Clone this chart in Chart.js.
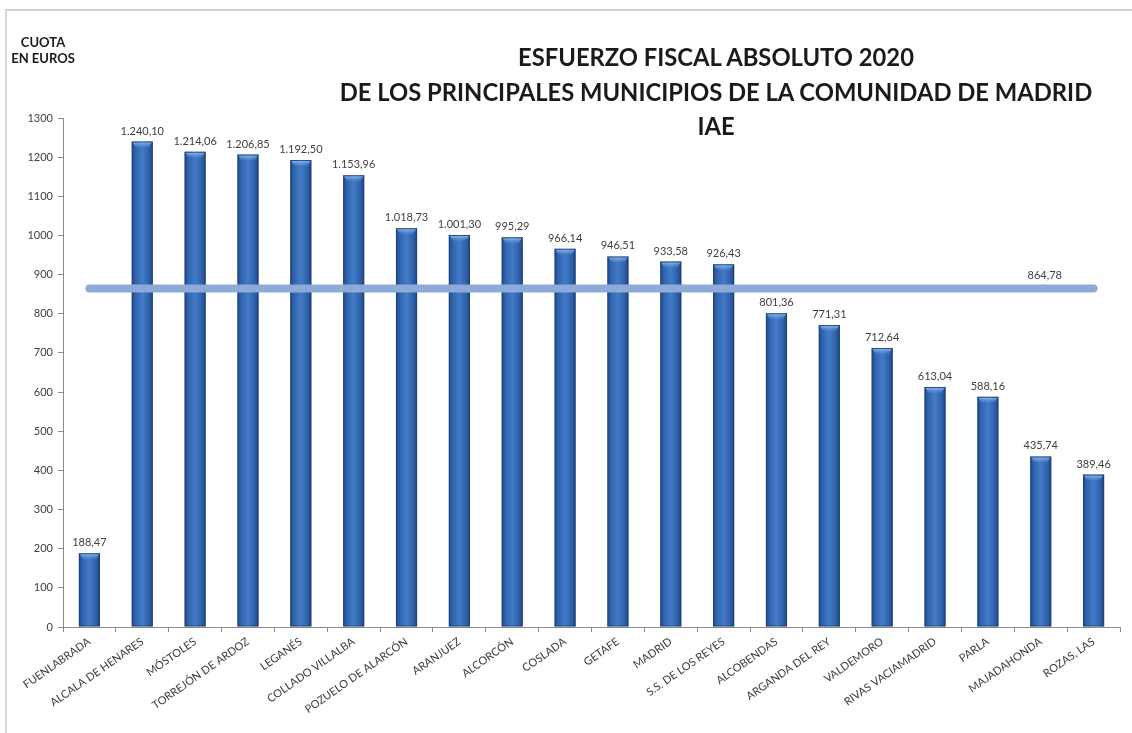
<!DOCTYPE html>
<html>
<head>
<meta charset="utf-8">
<script src="https://cdn.jsdelivr.net/npm/chart.js@4/dist/chart.umd.min.js"></script>
<style>
  html,body{margin:0;padding:0;background:#fff;}
  #wrap{position:relative;width:1132px;height:733px;overflow:hidden;background:#fff;}
  #frame{position:absolute;left:5px;top:9px;right:0;bottom:-5px;border-top:2px solid #cfcfcf;border-left:2px solid #d8d8d8;}
  canvas{position:absolute;left:0;top:0;}
  .t{position:absolute;left:716px;transform:translate(-50%,-50%);font-family:Lato,"Open Sans",sans-serif;font-weight:700;color:#1a1a1a;white-space:nowrap;}
  .u{position:absolute;left:43px;transform:translate(-50%,-50%);font-family:Lato,"Open Sans",sans-serif;font-weight:700;font-size:13px;color:#1a1a1a;white-space:nowrap;}
</style>
</head>
<body>
<div id="wrap">
  <div id="frame"></div>
  <canvas id="c" width="1132" height="733"></canvas>
  <div class="u" style="top:42px">CUOTA</div>
  <div class="u" style="top:58px">EN EUROS</div>
  <div class="t" id="t1" style="top:57px">ESFUERZO FISCAL ABSOLUTO 2020</div>
  <div class="t" id="t2" style="top:92px">DE LOS PRINCIPALES MUNICIPIOS DE LA COMUNIDAD DE MADRID</div>
  <div class="t" id="t3" style="top:126px">IAE</div>
</div>
<script>
const categories = ["FUENLABRADA","ALCALA DE HENARES","MÓSTOLES","TORREJÓN DE ARDOZ","LEGANÉS","COLLADO VILLALBA","POZUELO DE ALARCÓN","ARANJUEZ","ALCORCÓN","COSLADA","GETAFE","MADRID","S.S. DE LOS REYES","ALCOBENDAS","ARGANDA DEL REY","VALDEMORO","RIVAS VACIAMADRID","PARLA","MAJADAHONDA","ROZAS, LAS"];
const cuota = [188.47,1240.10,1214.06,1206.85,1192.50,1153.96,1018.73,1001.30,995.29,966.14,946.51,933.58,926.43,801.36,771.31,712.64,613.04,588.16,435.74,389.46];
const media = 864.78;
const mediaSeries = categories.map(() => media);
const yTicks = [0,100,200,300,400,500,600,700,800,900,1000,1100,1200,1300];

(function(){
  const t2 = document.getElementById('t2');
  t2.style.fontSize = '23px';
  const w = t2.getBoundingClientRect().width;
  const fs = 23 * 753 / w;
  ['t1','t2','t3'].forEach(id => document.getElementById(id).style.fontSize = fs.toFixed(2)+'px');
})();

function fmt(v){
  const parts = v.toFixed(2).split('.');
  return parts[0].replace(/\B(?=(\d{3})+(?!\d))/g,'.') + ',' + parts[1];
}

const FONT = 'Lato, "Open Sans", sans-serif';

const barStyle = {
  id:'barStyle',
  afterDatasetDraw(chart, args){
    if (args.index !== 0) return;
    const ctx = chart.ctx;
    const meta = chart.getDatasetMeta(0);
    meta.data.forEach(bar => {
      const w = bar.width, x0 = bar.x - w/2, top = bar.y, bottom = bar.base;
      ctx.save();
      const g = ctx.createLinearGradient(0, top, 0, top+7);
      g.addColorStop(0,'rgba(160,200,245,0.95)');
      g.addColorStop(1,'rgba(100,150,220,0)');
      ctx.fillStyle = g;
      ctx.beginPath();
      ctx.moveTo(x0+1, top+1);
      ctx.lineTo(x0+w-1, top+1);
      ctx.lineTo(x0+w-4, top+6);
      ctx.lineTo(x0+4, top+6);
      ctx.closePath();
      ctx.fill();
      ctx.strokeStyle = 'rgba(25,55,105,0.55)';
      ctx.lineWidth = 1;
      ctx.strokeRect(x0+0.5, top+0.5, w-1, bottom-top-1);
      ctx.restore();
    });
  }
};

const labels = {
  id:'labels',
  afterDatasetsDraw(chart){
    const ctx = chart.ctx;
    ctx.save();
    ctx.font = '11px ' + FONT;
    ctx.fillStyle = '#404040';
    ctx.textAlign = 'center';
    ctx.textBaseline = 'bottom';
    const meta = chart.getDatasetMeta(0);
    meta.data.forEach((bar,i) => {
      ctx.fillText(fmt(cuota[i]), bar.x, bar.y - 5);
    });
    const lm = chart.getDatasetMeta(1);
    const p = lm.data[18];
    ctx.fillText(fmt(media), p.x + 4, p.y - 7);
    ctx.restore();
  }
};

new Chart(document.getElementById('c'), {
  type:'bar',
  data:{
    labels: categories,
    datasets:[
      {
        label:'Cuota',
        data: cuota,
        order: 1,
        categoryPercentage: 1,
        barPercentage: 0.4,
        backgroundColor: (c) => {
          const chart = c.chart;
          if (!chart.chartArea) return '#3066b2';
          const x = chart.scales.x.getPixelForValue(c.dataIndex);
          const w = chart.scales.x.width / categories.length * 0.4;
          const g = chart.ctx.createLinearGradient(x - w/2, 0, x + w/2, 0);
          g.addColorStop(0, '#214b8b');
          g.addColorStop(0.2, '#3265b0');
          g.addColorStop(0.5, '#427bc8');
          g.addColorStop(0.8, '#3062ab');
          g.addColorStop(1, '#1f4784');
          return g;
        },
        borderWidth: 0
      },
      {
        type:'line',
        label:'Media',
        data: mediaSeries,
        order: 0,
        borderColor:'#8eaad9',
        borderWidth: 8,
        borderCapStyle:'round',
        pointRadius: 0,
        fill:false
      }
    ]
  },
  options:{
    responsive:false,
    animation:false,
    devicePixelRatio:1,
    layout:{padding:{top:118,right:12,left:0,bottom:0}},
    plugins:{legend:{display:false},tooltip:{enabled:false},title:{display:false}},
    scales:{
      x:{
        offset:true,
        grid:{display:true, drawOnChartArea:false, tickLength:5, color:'#8c8c8c', offset:true},
        border:{display:true, color:'#8c8c8c', width:1},
        ticks:{font:{family:FONT,size:11}, color:'#404040', minRotation:35, maxRotation:35, autoSkip:false, padding:3},
        afterFit(s){ s.height = 106; }
      },
      y:{
        min:0, max:1300,
        afterBuildTicks(s){ s.ticks = yTicks.map(v => ({value:v})); },
        grid:{display:true, drawOnChartArea:false, tickLength:5, color:'#8c8c8c'},
        border:{display:true, color:'#8c8c8c', width:1},
        ticks:{font:{family:FONT,size:11}, color:'#404040', padding:5, callback:(v) => String(v)},
        afterFit(s){ s.width = 63; }
      }
    }
  },
  plugins:[barStyle, labels]
});
</script>
</body>
</html>
